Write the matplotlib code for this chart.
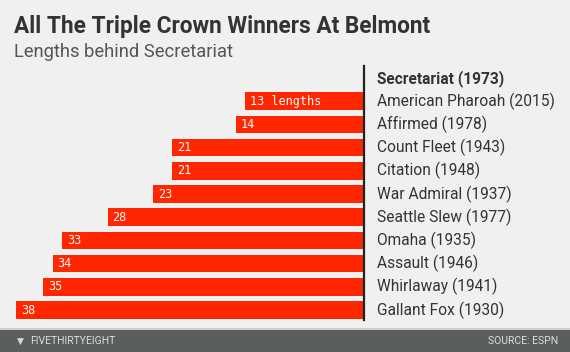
import matplotlib
matplotlib.use("Agg")
import matplotlib.pyplot as plt
from matplotlib.patches import Rectangle

# ---- data ----
horses = ["Secretariat (1973)", "American Pharoah (2015)", "Affirmed (1978)",
          "Count Fleet (1943)", "Citation (1948)", "War Admiral (1937)",
          "Seattle Slew (1977)", "Omaha (1935)", "Assault (1946)",
          "Whirlaway (1941)", "Gallant Fox (1930)"]
lengths = [0, 13, 14, 21, 21, 23, 28, 33, 34, 35, 38]

BG = "#f0f0f0"; RED = "#ff2700"; INK = "#222222"; GREY = "#555555"
FOOT = "#5b5e5f"
plt.rcParams["font.family"] = ["Roboto", "DejaVu Sans"]

W, H = 570, 352
fig = plt.figure(figsize=(W / 100, H / 100), dpi=100, facecolor=BG)

# bars end at px 364, row pitch ~23.2 px
left_px, right_px, top_px, bot_px = 16, 364, 66, 320
ax = fig.add_axes([left_px / W, 1 - bot_px / H, (right_px - left_px) / W,
                   (bot_px - top_px) / H])
ax.set_facecolor("none")
rows = list(range(len(horses)))
ax.barh(rows[1:], [-v for v in lengths[1:]], height=0.76, color=RED,
        edgecolor="none")
ax.set_xlim(-38, 0)
ax.set_ylim(10.43, -0.52)
for s in ("top", "left", "bottom"):
    ax.spines[s].set_visible(False)
ax.spines["right"].set_color(INK)
ax.spines["right"].set_linewidth(1.6)
ax.set_xticks([]); ax.set_yticks([])

for i, (name, v) in enumerate(zip(horses, lengths)):
    ax.annotate(name, (0, i), xytext=(13, 0), textcoords="offset pixels",
                ha="left", va="center", fontsize=11.2, color="#333333",
                fontweight="bold" if i == 0 else "normal",
                annotation_clip=False)
    if v:
        lab = f"{v} lengths" if i == 1 else str(v)
        ax.annotate(lab, (-v, i), xytext=(5, 0), textcoords="offset pixels",
                    ha="left", va="center", fontsize=8.5, color="white",
                    family="DejaVu Sans Mono")

fig.text(14 / W, 1 - 27 / H, "All The Triple Crown Winners At Belmont",
         ha="left", va="center", fontsize=16.3, fontweight="bold", color="#333333")
fig.text(14 / W, 1 - 52 / H, "Lengths behind Secretariat",
         ha="left", va="center", fontsize=13.2, color=GREY)

# footer band
fig.patches.append(Rectangle((0, 0), 1, 1 - 328 / H, transform=fig.transFigure,
                             facecolor="#cfcfcf", edgecolor="none"))
fig.patches.append(Rectangle((0, 0), 1, 1 - 330 / H, transform=fig.transFigure,
                             facecolor=FOOT, edgecolor="none"))
fig.text(30 / W, 1 - 341 / H, "FIVETHIRTYEIGHT", ha="left", va="center",
         fontsize=7.5, color="#dcdcdc")
fig.text(17 / W, 1 - 341 / H, "\u25BC", ha="left", va="center",
         fontsize=6.5, color="#dcdcdc", family="DejaVu Sans")
fig.text(558 / W, 1 - 341 / H, "SOURCE: ESPN", ha="right", va="center",
         fontsize=7.5, color="#dcdcdc")

fig.savefig("out.png", dpi=100, facecolor=BG)
